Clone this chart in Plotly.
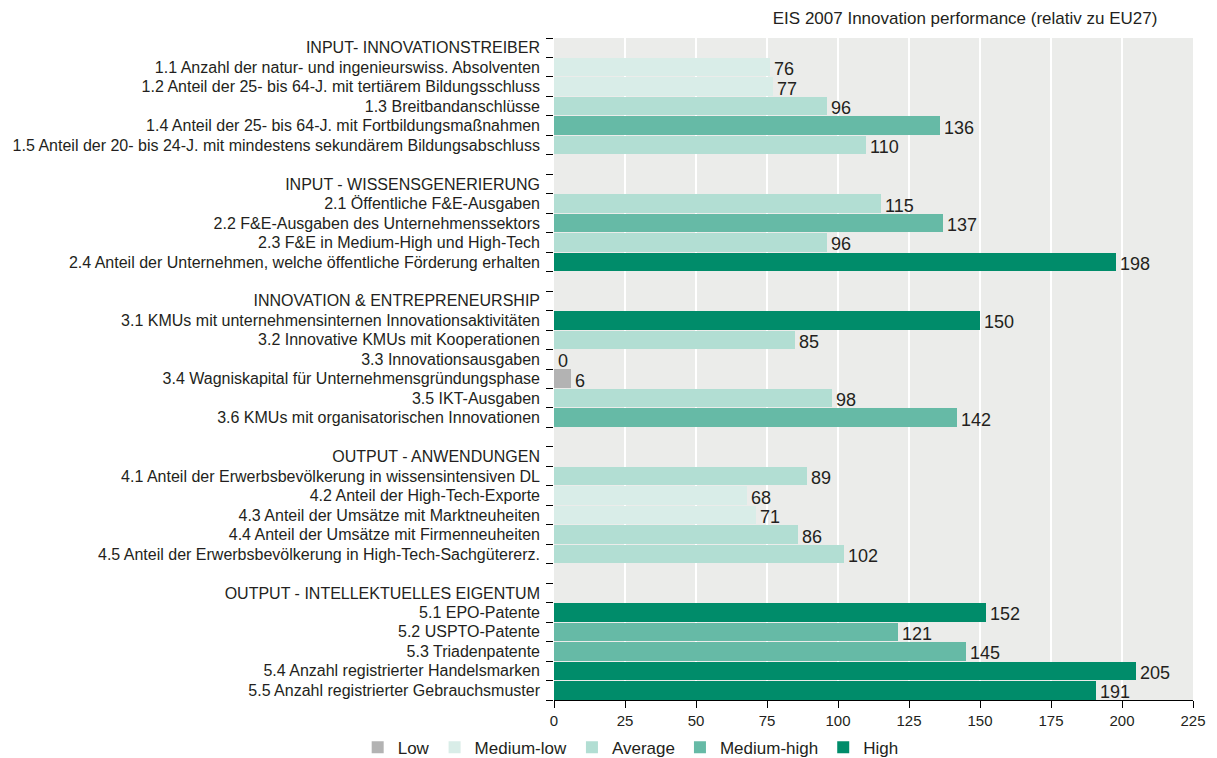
import plotly.graph_objects as go

labels = [
    "INPUT- INNOVATIONSTREIBER",
    "1.1 Anzahl der natur- und ingenieurswiss. Absolventen",
    "1.2 Anteil der 25- bis 64-J. mit tertiärem Bildungsschluss",
    "1.3 Breitbandanschlüsse",
    "1.4 Anteil der 25- bis 64-J. mit Fortbildungsmaßnahmen",
    "1.5 Anteil der 20- bis 24-J. mit mindestens sekundärem Bildungsabschluss",
    "",
    "INPUT - WISSENSGENERIERUNG",
    "2.1 Öffentliche F&E-Ausgaben",
    "2.2 F&E-Ausgaben des Unternehmenssektors",
    "2.3 F&E in Medium-High und High-Tech",
    "2.4 Anteil der Unternehmen, welche öffentliche Förderung erhalten",
    "",
    "INNOVATION & ENTREPRENEURSHIP",
    "3.1 KMUs mit unternehmensinternen Innovationsaktivitäten",
    "3.2 Innovative KMUs mit Kooperationen",
    "3.3 Innovationsausgaben",
    "3.4 Wagniskapital für Unternehmensgründungsphase",
    "3.5 IKT-Ausgaben",
    "3.6 KMUs mit organisatorischen Innovationen",
    "",
    "OUTPUT - ANWENDUNGEN",
    "4.1 Anteil der Erwerbsbevölkerung in wissensintensiven DL",
    "4.2 Anteil der High-Tech-Exporte",
    "4.3 Anteil der Umsätze mit Marktneuheiten",
    "4.4 Anteil der Umsätze mit Firmenneuheiten",
    "4.5 Anteil der Erwerbsbevölkerung in High-Tech-Sachgütererz.",
    "",
    "OUTPUT - INTELLEKTUELLES EIGENTUM",
    "5.1 EPO-Patente",
    "5.2 USPTO-Patente",
    "5.3 Triadenpatente",
    "5.4 Anzahl registrierter Handelsmarken",
    "5.5 Anzahl registrierter Gebrauchsmuster",
]

values = [
    None, 76, 77, 96, 136, 110, None,
    None, 115, 137, 96, 198, None,
    None, 150, 85, 0, 6, 98, 142, None,
    None, 89, 68, 71, 86, 102, None,
    None, 152, 121, 145, 205, 191,
]

classes = [
    None, "Medium-low", "Medium-low", "Average", "Medium-high", "Average", None,
    None, "Average", "Medium-high", "Average", "High", None,
    None, "High", "Average", "Low", "Low", "Average", "Medium-high", None,
    None, "Average", "Medium-low", "Medium-low", "Average", "Average", None,
    None, "High", "Medium-high", "Medium-high", "High", "High",
]

class_names = ["Low", "Medium-low", "Average", "Medium-high", "High"]
class_colors = ["#b3b3b3", "#d9ede8", "#b2ded3", "#66baa6", "#008c6a"]

x_ticks = [0, 25, 50, 75, 100, 125, 150, 175, 200, 225]

title_text = "EIS 2007 Innovation performance (relativ zu EU27)"

FONT = "Liberation Sans"
TXT = "#231f20"

rows = list(range(len(labels)))
n = len(labels)

fig = go.Figure()
for cname, ccol in zip(class_names, class_colors):
    ys = [r for r in rows if classes[r] == cname]
    xs = [values[r] for r in ys]
    fig.add_trace(go.Bar(
        x=xs, y=ys, orientation="h", name=cname,
        marker=dict(color=ccol, line=dict(width=0)),
        width=0.95, hoverinfo="x+name",
    ))

# value labels
for r in rows:
    if values[r] is not None:
        fig.add_annotation(
            x=values[r], y=r, xref="x", yref="y", text=str(values[r]),
            showarrow=False, xanchor="left", yanchor="middle",
            xshift=2, yshift=-2,
            font=dict(family=FONT, size=18, color=TXT),
        )

# invisible trace to activate boundary-tick axis
fig.add_trace(go.Scatter(x=[0], y=[0], yaxis="y2", mode="markers",
                         marker=dict(opacity=0), showlegend=False, hoverinfo="skip"))

fig.update_layout(
    width=1217, height=758,
    margin=dict(l=554, r=24, t=38, b=58, autoexpand=False),
    paper_bgcolor="white",
    plot_bgcolor="#ebecea",
    barmode="overlay",
    bargap=0.0,
    title=dict(text=title_text, x=0.951, xanchor="right", y=0.976, yanchor="middle",
               font=dict(family=FONT, size=17, color=TXT)),
    xaxis=dict(
        range=[0, 225], tickvals=x_ticks, showgrid=True, gridcolor="white", gridwidth=1.5,
        showline=True, linecolor="black", linewidth=1, ticks="outside", ticklen=7,
        tickcolor="black", zeroline=False, automargin=False,
        tickfont=dict(family=FONT, size=15, color=TXT),
    ),
    yaxis=dict(
        range=[n - 0.5, -0.5], tickvals=rows, ticktext=labels, ticks="",
        showgrid=False, zeroline=False, showline=False, automargin=False,
        tickfont=dict(family=FONT, size=16, color=TXT), ticklabelstandoff=13,
    ),
    yaxis2=dict(
        range=[n - 0.5, -0.5], overlaying="y", side="left", anchor="x",
        tickvals=[r - 0.5 for r in range(n + 1)], showticklabels=False,
        ticks="outside", ticklen=7, tickcolor="black", automargin=False,
        showgrid=False, zeroline=False, showline=False,
    ),
    legend=dict(
        orientation="h",
        x=0.12, xanchor="center", y=-0.072, yanchor="middle",
        font=dict(family=FONT, size=17, color=TXT),
        itemwidth=30, traceorder="normal",
    ),
    showlegend=True,
)

fig.write_html(
    "out.html",
    config={"displayModeBar": False},
    post_script="document.body.style.margin='0';document.body.style.overflow='hidden';",
)
